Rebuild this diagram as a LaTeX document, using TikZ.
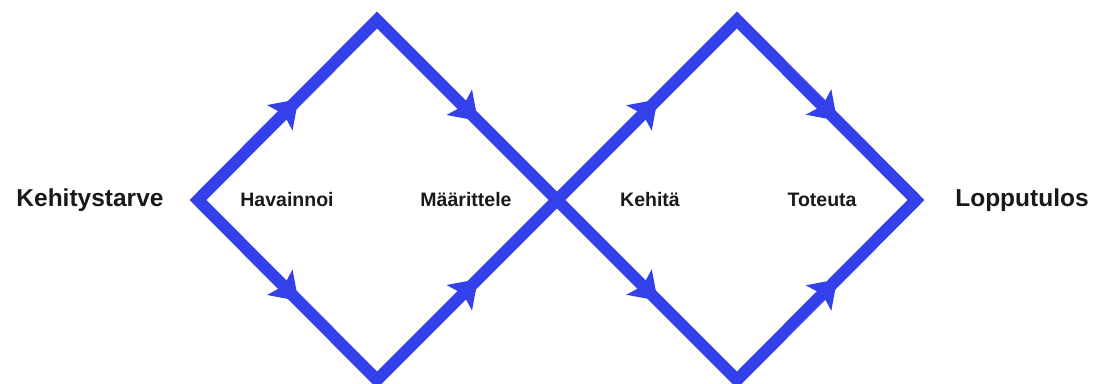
\documentclass[tikz,border=0pt]{standalone}
\usepackage{fontspec}
\setmainfont{Liberation Sans}
\usetikzlibrary{arrows.meta,decorations.markings}
\definecolor{ddblue}{RGB}{52,64,234}
\begin{document}
\begin{tikzpicture}[x=1pt,y=-1pt,
  tip/.tip={Stealth[length=26pt,width=35pt,inset=5pt]},
  diamondpath/.style={draw=ddblue,line width=12pt,line join=miter,
    postaction={decorate},
    decoration={markings,
      mark=at position 0.14 with {\arrow[ddblue]{tip}},
      mark=at position 0.39 with {\arrow[ddblue]{tip}},
      mark=at position 0.61 with {\arrowreversed[ddblue]{tip}},
      mark=at position 0.86 with {\arrowreversed[ddblue]{tip}}}},
  biglabel/.style={font=\fontsize{24.5}{28}\selectfont\bfseries,text=black!90},
  smalllabel/.style={font=\fontsize{19.5}{22}\selectfont\bfseries,text=black!90}]
\useasboundingbox (0,0) rectangle (1094,383);
\coordinate (L1) at (198,200);
\coordinate (T1) at (377,20);
\coordinate (M) at (557,200);
\coordinate (B1) at (377,380);
\coordinate (T2) at (737,20);
\coordinate (R2) at (916,200);
\coordinate (B2) at (737,380);
\path[diamondpath] (L1) -- (T1) -- (M) -- (B1) -- cycle;
\path[diamondpath] (M) -- (T2) -- (R2) -- (B2) -- cycle;
\node[biglabel] (start) at (90,200) {Kehitystarve};
\node[smalllabel] (havainnoi) at (287,200) {Havainnoi};
\node[smalllabel] (maarittele) at (466,200) {Määrittele};
\node[smalllabel] (kehita) at (650,200) {Kehitä};
\node[smalllabel] (toteuta) at (822,200) {Toteuta};
\node[biglabel] (end) at (1022,200) {Lopputulos};
\end{tikzpicture}
\end{document}
